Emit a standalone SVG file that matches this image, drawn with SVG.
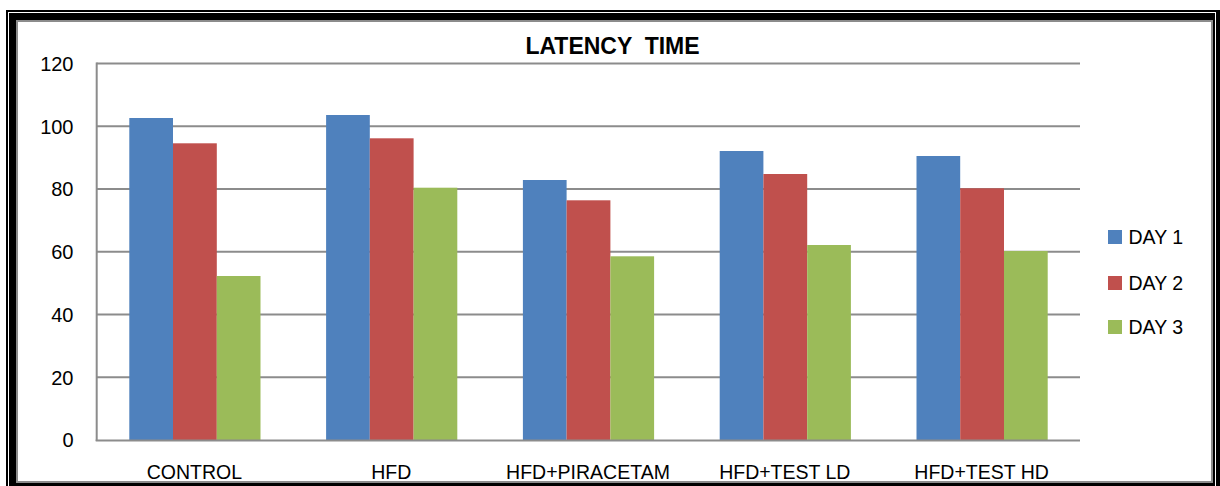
<svg xmlns="http://www.w3.org/2000/svg" width="1220" height="486" viewBox="0 0 1220 486">
<style>
  .lbl{font-family:"Liberation Sans",Arial,sans-serif;font-size:19.5px;fill:#000}
  .ytk{text-anchor:end;font-size:20px}
  .cat{text-anchor:middle}
  .title{font-family:"Liberation Sans",Arial,sans-serif;font-size:23px;font-weight:bold;text-anchor:middle;white-space:pre}
  .grid{stroke:#8c8c8c;stroke-width:2;fill:none}
  .d1{fill:#4F81BD}
  .d2{fill:#C0504D}
  .d3{fill:#9BBB59}
</style>
<g id="frame">
  <rect x="0" y="0" width="1220" height="486" fill="#ffffff"/>
  <rect x="6" y="10" width="1214" height="480" fill="#000"/>
  <rect x="8" y="12" width="1208" height="476" fill="#fff"/>
  <rect x="9" y="13" width="1206" height="474" fill="#000"/>
  <rect x="16" y="20" width="1197" height="463" fill="#8c8c8c"/>
  <rect x="18" y="22" width="1193" height="459" fill="#fff"/>
</g>
<text id="title" class="title" x="612.5" y="53.5">LATENCY  TIME</text>
<g id="gridlines">
  <line class="grid" x1="96.5" y1="63.6" x2="1080" y2="63.6"/>
  <line class="grid" x1="96.5" y1="126.3" x2="1080" y2="126.3"/>
  <line class="grid" x1="96.5" y1="189.1" x2="1080" y2="189.1"/>
  <line class="grid" x1="96.5" y1="251.8" x2="1080" y2="251.8"/>
  <line class="grid" x1="96.5" y1="314.5" x2="1080" y2="314.5"/>
  <line class="grid" x1="96.5" y1="377.3" x2="1080" y2="377.3"/>
</g>
<g id="y-axis-labels" class="lbl ytk">
  <text x="73.5" y="71">120</text>
  <text x="73.5" y="133.5">100</text>
  <text x="73.5" y="196.3">80</text>
  <text x="73.5" y="259">60</text>
  <text x="73.5" y="321.7">40</text>
  <text x="73.5" y="384.5">20</text>
  <text x="73.5" y="447.2">0</text>
</g>
<g id="bars">
  <g id="control">
    <rect class="d1" x="129.3" y="118" width="43.7" height="322"/>
    <rect class="d2" x="173" y="143.3" width="43.8" height="296.7"/>
    <rect class="d3" x="216.8" y="276" width="43.7" height="164"/>
  </g>
  <g id="hfd">
    <rect class="d1" x="326.1" y="115" width="43.7" height="325"/>
    <rect class="d2" x="369.8" y="138.3" width="43.8" height="301.7"/>
    <rect class="d3" x="413.6" y="187.7" width="43.7" height="252.3"/>
  </g>
  <g id="hfd-piracetam">
    <rect class="d1" x="522.9" y="180" width="43.7" height="260"/>
    <rect class="d2" x="566.6" y="200.3" width="43.8" height="239.7"/>
    <rect class="d3" x="610.4" y="256.3" width="43.7" height="183.7"/>
  </g>
  <g id="hfd-test-ld">
    <rect class="d1" x="719.7" y="151" width="43.7" height="289"/>
    <rect class="d2" x="763.4" y="174" width="43.8" height="266"/>
    <rect class="d3" x="807.2" y="245" width="43.7" height="195"/>
  </g>
  <g id="hfd-test-hd">
    <rect class="d1" x="916.5" y="156" width="43.7" height="284"/>
    <rect class="d2" x="960.2" y="188.3" width="43.8" height="251.7"/>
    <rect class="d3" x="1004" y="251" width="43.7" height="189"/>
  </g>
</g>
<g id="axes">
  <line class="grid" x1="96.7" y1="62.6" x2="96.7" y2="441"/>
  <line class="grid" x1="95.7" y1="440.5" x2="1080" y2="440.5"/>
</g>
<g id="category-labels" class="lbl cat">
  <text x="194.4" y="479">CONTROL</text>
  <text x="391.2" y="479">HFD</text>
  <text x="588" y="479">HFD+PIRACETAM</text>
  <text x="784.8" y="479">HFD+TEST LD</text>
  <text x="981.6" y="479">HFD+TEST HD</text>
</g>
<g id="legend" class="lbl">
  <g id="legend-day1"><rect class="d1" x="1108" y="230" width="14" height="14"/><text x="1128.5" y="244">DAY 1</text></g>
  <g id="legend-day2"><rect class="d2" x="1108" y="276" width="14" height="14"/><text x="1128.5" y="290">DAY 2</text></g>
  <g id="legend-day3"><rect class="d3" x="1108" y="320" width="14" height="14"/><text x="1128.5" y="334">DAY 3</text></g>
</g>
</svg>
